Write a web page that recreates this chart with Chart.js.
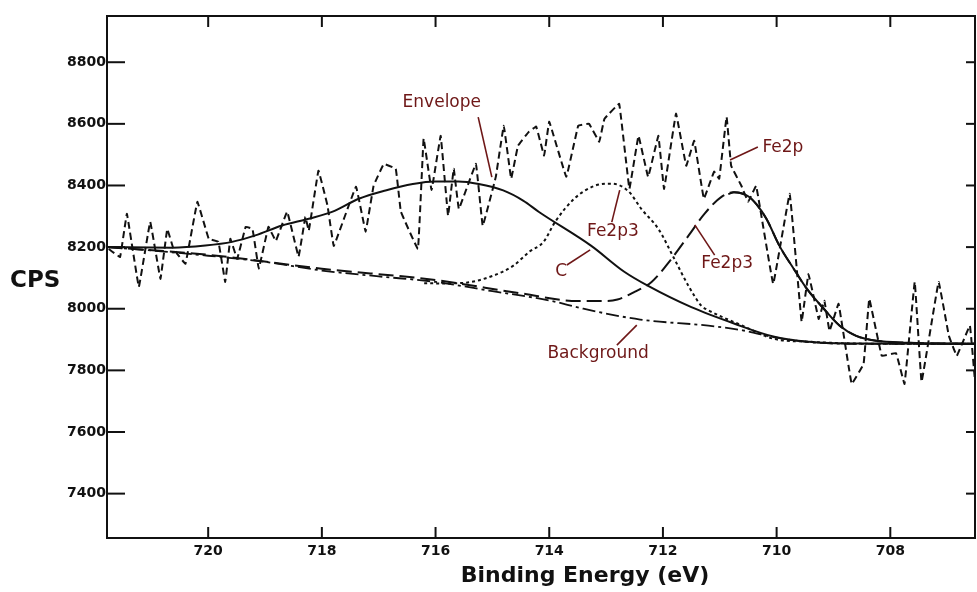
<!DOCTYPE html>
<html>
<head>
<meta charset="utf-8">
<script src="https://cdn.jsdelivr.net/npm/chart.js@4.4.1/dist/chart.umd.min.js"></script>
<style>
  html, body { margin: 0; padding: 0; background: #fff; }
  canvas { display: block; }
</style>
</head>
<body>
<canvas id="xps" width="977" height="592"></canvas>
<script>
// --- axis ticks ---
const xTicks = [720, 718, 716, 714, 712, 710, 708];
const yTicks = [7400, 7600, 7800, 8000, 8200, 8400, 8600, 8800];

// --- raw spectrum (Fe2p region) ---
const dataEnergy = [721.75, 721.55, 721.43, 721.22, 721.02, 720.84, 720.72, 720.61, 720.40, 720.19,
    719.99, 719.82, 719.70, 719.61, 719.49, 719.34, 719.22, 719.11, 718.94, 718.81,
    718.61, 718.41, 718.29, 718.23, 718.06, 717.90, 717.79, 717.40, 717.23, 717.09,
    716.91, 716.70, 716.61, 716.31, 716.21, 716.07, 715.91, 715.78, 715.68, 715.59, 715.29,
    715.17, 714.94, 714.80, 714.67, 714.55, 714.36, 714.23, 714.09, 714.00, 713.70,
    713.49, 713.30, 713.12, 713.03, 712.77, 712.59, 712.43, 712.26, 712.08, 711.98,
    711.77, 711.59, 711.45, 711.28, 711.10, 711.01, 710.88, 710.80, 710.62, 710.50,
    710.36, 710.06, 709.77, 709.56, 709.44, 709.26, 709.16, 709.07, 708.91, 708.68,
    708.47, 708.37, 708.15, 707.90, 707.75, 707.57, 707.45, 707.15, 706.97, 706.83, 706.60, 706.48];
const dataCounts = [8194, 8168, 8308, 8071, 8282, 8097, 8259, 8194, 8146, 8347,
    8227, 8217, 8087, 8227, 8162, 8266, 8259, 8130, 8266, 8220,
    8315, 8169, 8298, 8253, 8448, 8334, 8204, 8396, 8250, 8399,
    8470, 8454, 8315, 8194, 8552, 8385, 8561, 8302, 8454, 8324, 8470,
    8269, 8428, 8594, 8422, 8529, 8574, 8591, 8497, 8607, 8428,
    8594, 8600, 8542, 8616, 8665, 8389, 8561, 8428, 8561, 8389,
    8633, 8464, 8545, 8357, 8445, 8422, 8623, 8464, 8399, 8347,
    8399, 8081, 8373, 7958, 8113, 7967, 8026, 7928, 8016, 7756,
    7821, 8032, 7847, 7856, 7756, 8087, 7763, 8087, 7912, 7847, 7945, 7698];

// --- fitted components ---
const cEnergy = [721.78, 720.63, 720.05, 719.58, 719.17, 718.70, 718.23, 717.81, 717.35, 716.88,
    716.40, 716.00, 715.60, 715.24, 714.81, 714.46, 714.18, 713.26, 712.68, 712.26,
    711.50, 710.75, 710.04, 709.44, 708.50, 707.00, 706.51];
const cCounts = [8200, 8198, 8205, 8217, 8238, 8270, 8292, 8315, 8357, 8384,
    8405, 8413, 8413, 8405, 8384, 8351, 8314, 8204, 8120, 8074,
    8005, 7952, 7909, 7893, 7887, 7886, 7886];

const fe2p3aEnergy = [716.20, 715.90, 715.50, 714.99, 714.63, 714.35, 714.10, 713.90, 713.56, 713.20,
    712.90, 712.60, 712.38, 712.08, 711.80, 711.55, 711.32, 711.20, 710.60, 710.04,
    709.44, 708.80, 708.00, 706.51];
const fe2p3aCounts = [8083, 8082, 8084, 8107, 8140, 8185, 8217, 8281, 8357, 8399,
    8406, 8380, 8324, 8259, 8162, 8074, 8009, 7995, 7945, 7902,
    7893, 7888, 7886, 7886];

const fe2p3bEnergy = [721.78, 720.00, 718.00, 716.00, 714.50, 713.50, 713.00, 712.80, 712.50, 712.20,
    711.85, 711.55, 711.27, 710.97, 710.75, 710.50, 710.36, 710.18, 709.95, 709.70,
    709.47, 709.17, 708.89, 708.60, 708.24, 707.70, 707.00, 706.51];
const fe2p3bCounts = [8200, 8175, 8130, 8093, 8050, 8025, 8025, 8030, 8055, 8087,
    8162, 8237, 8308, 8363, 8378, 8365, 8340, 8292, 8204, 8130,
    8065, 8000, 7945, 7912, 7896, 7890, 7887, 7886];

const envEnergy = [710.85, 710.75, 710.50, 710.36, 710.18, 709.95, 709.70, 709.47, 709.17, 708.89,
    708.60, 708.24, 707.70, 707.00, 706.51];
const envCounts = [8372, 8378, 8365, 8340, 8292, 8204, 8130, 8065, 8000, 7945,
    7912, 7896, 7890, 7887, 7886];

const bgEnergy = [721.78, 721.00, 720.00, 719.00, 718.00, 717.00, 716.00, 715.00, 714.00, 713.40,
    712.40, 711.20, 710.60, 710.00, 709.40, 708.50, 706.51];
const bgCounts = [8200, 8189, 8172, 8152, 8124, 8105, 8087, 8057, 8027, 8000,
    7965, 7945, 7930, 7906, 7891, 7886, 7886];

// --- annotation labels: text, label centre (eV, CPS), leader from -> to ---
const labelText = ["Envelope", "Fe2p3", "C", "Fe2p3", "Fe2p", "Background"];
const labelAt = [[715.89, 8668], [712.88, 8249], [713.79, 8122], [710.87, 8148], [709.89, 8522], [713.14, 7856]];
const leaderFrom = [[715.25, 8622], [712.76, 8385], [713.69, 8142], [711.44, 8272], [710.33, 8525], [712.46, 7947]];
const leaderTo = [[715.01, 8427], [712.90, 8281], [713.28, 8191], [711.09, 8174], [710.82, 8483], [712.81, 7882]];

const ink = "#111111";
const labelRed = "#6e1717";

function pts(xs, ys) {
    return xs.map((v, i) => ({ x: v, y: ys[i] }));
}

function curve(label, xs, ys, dash, width, tension) {
    return {
        label: label,
        data: pts(xs, ys),
        borderColor: ink,
        borderWidth: width,
        borderDash: dash,
        pointRadius: 0,
        fill: false,
        tension: tension,
        cubicInterpolationMode: tension > 0.3 ? "monotone" : "default"
    };
}

const decor = {
    id: "decor",
    afterDraw(chart) {
        const { ctx, chartArea: a, scales: { x, y } } = chart;
        ctx.save();
        ctx.strokeStyle = ink;
        ctx.lineWidth = 2;
        ctx.strokeRect(a.left, a.top, a.right - a.left, a.bottom - a.top);

        const seg = (x1, y1, x2, y2) => {
            ctx.beginPath();
            ctx.moveTo(x1, y1);
            ctx.lineTo(x2, y2);
            ctx.stroke();
        };
        // inward ticks on all four sides
        xTicks.forEach(v => {
            const px = x.getPixelForValue(v);
            seg(px, a.bottom, px, a.bottom - 11);
            seg(px, a.top, px, a.top + 11);
        });
        yTicks.forEach(v => {
            const py = y.getPixelForValue(v);
            seg(a.left, py, a.left + 18, py);
            seg(a.right, py, a.right - 9, py);
        });

        // axis titles
        ctx.fillStyle = ink;
        ctx.textBaseline = "middle";
        ctx.textAlign = "left";
        ctx.font = 'bold 23px "DejaVu Sans"';
        ctx.fillText("CPS", 10, 281);
        ctx.textAlign = "center";
        ctx.font = 'bold 22px "DejaVu Sans"';
        ctx.fillText("Binding Energy (eV)", 585, 576);

        // red callouts
        ctx.strokeStyle = labelRed;
        ctx.fillStyle = labelRed;
        ctx.lineWidth = 1.6;
        ctx.font = '17px "DejaVu Sans"';
        labelText.forEach((t, i) => {
            seg(x.getPixelForValue(leaderFrom[i][0]), y.getPixelForValue(leaderFrom[i][1]),
                x.getPixelForValue(leaderTo[i][0]), y.getPixelForValue(leaderTo[i][1]));
            ctx.fillText(t, x.getPixelForValue(labelAt[i][0]), y.getPixelForValue(labelAt[i][1]));
        });
        ctx.restore();
    }
};

new Chart(document.getElementById("xps").getContext("2d"), {
    type: "line",
    data: {
        datasets: [
            curve("Background", bgEnergy, bgCounts, [13, 4, 3, 4], 1.8, 0.4),
            curve("Fe2p3 (b)", fe2p3bEnergy, fe2p3bCounts, [15, 6], 2, 0.4),
            curve("Fe2p3 (a)", fe2p3aEnergy, fe2p3aCounts, [3, 3], 2, 0.4),
            curve("C", cEnergy, cCounts, [], 2, 0.4),
            curve("Envelope", envEnergy, envCounts, [], 2, 0.4),
            curve("Fe2p", dataEnergy, dataCounts, [7, 4], 2, 0.05)
        ]
    },
    options: {
        responsive: false,
        animation: false,
        layout: { padding: { top: 16, right: 2, left: 0, bottom: 0 } },
        plugins: {
            legend: { display: false },
            tooltip: { enabled: false }
        },
        scales: {
            x: {
                type: "linear",
                reverse: true,
                min: 706.51,
                max: 721.78,
                grid: { display: false, drawTicks: false },
                border: { display: false },
                afterFit: s => { s.height = 54; },
                afterBuildTicks: s => { s.ticks = xTicks.map(v => ({ value: v })); },
                ticks: {
                    color: ink,
                    padding: 5,
                    maxRotation: 0,
                    font: { family: "DejaVu Sans", weight: "bold", size: 14 },
                    callback: v => String(v)
                }
            },
            y: {
                min: 7256,
                max: 8950,
                grid: { display: false, drawTicks: false },
                border: { display: false },
                afterFit: s => { s.width = 107; },
                afterBuildTicks: s => { s.ticks = yTicks.map(v => ({ value: v })); },
                ticks: {
                    color: ink,
                    padding: 1,
                    font: { family: "DejaVu Sans", weight: "bold", size: 14 },
                    callback: v => String(v)
                }
            }
        }
    },
    plugins: [decor]
});
</script>
</body>
</html>
